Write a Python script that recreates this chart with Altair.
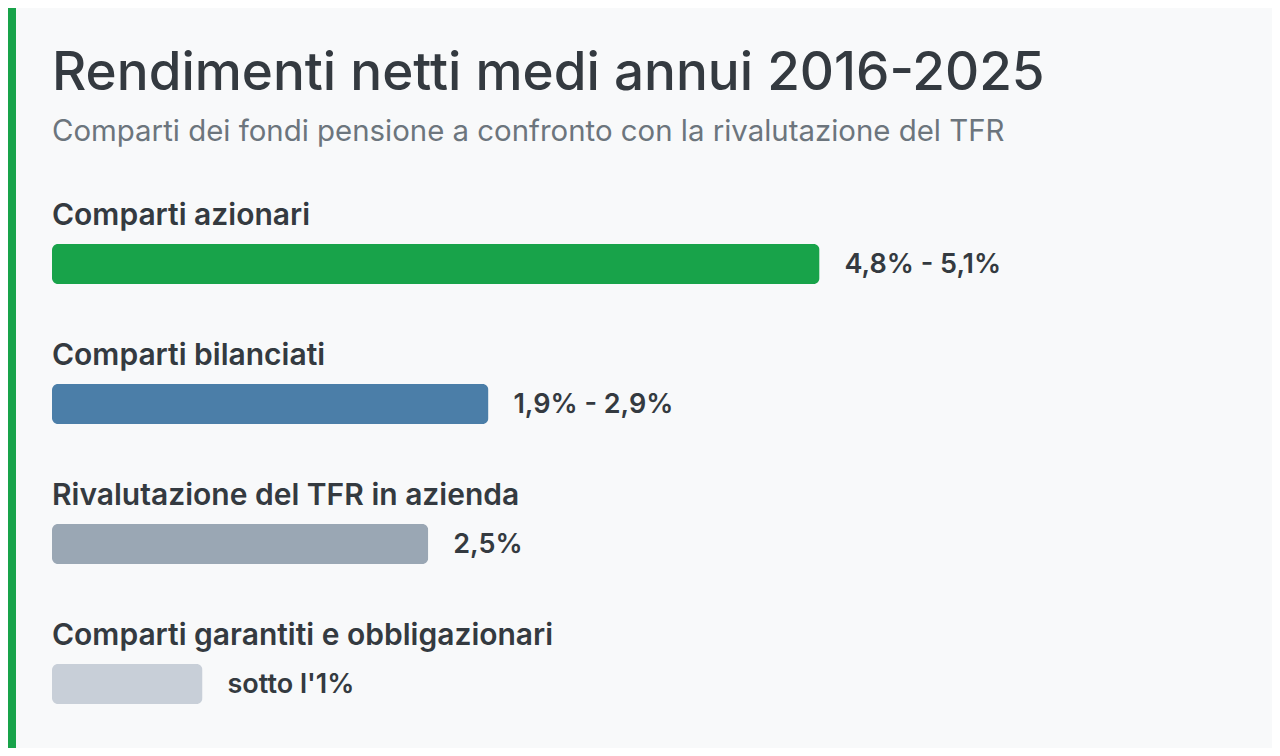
import altair as alt
import pandas as pd

# Comparti e rendimenti
categorie = [
    "Comparti azionari",
    "Comparti bilanciati",
    "Rivalutazione del TFR in azienda",
    "Comparti garantiti e obbligazionari",
]
# Estremo superiore dell'intervallo, usato per la lunghezza della barra
rendimento_max = [5.1, 2.9, 2.5, 1.0]
etichette = ["4,8% - 5,1%", "1,9% - 2,9%", "2,5%", "sotto l'1%"]
colori = ["#18a34a", "#4b7ea8", "#9aa7b4", "#c8cfd8"]

text_color = "#343a40"
font = "Inter"

df = pd.DataFrame({
    "categoria": categorie,
    "valore": rendimento_max,
    "etichetta": etichette,
    "colore": colori,
})

y_enc = alt.Y("categoria:N", sort=categorie, axis=None,
              scale=alt.Scale(type="point", padding=0))
x_scale = alt.Scale(domain=[0, 8], nice=False)

base = alt.Chart(df)

bars = base.mark_bar(size=40, cornerRadius=6).encode(
    x=alt.X("valore:Q", scale=x_scale, axis=None),
    y=y_enc,
    color=alt.Color("colore:N", scale=None),
)

valori = base.mark_text(
    align="left", baseline="middle", dx=25, dy=1, fontSize=27,
    fontWeight=600, font=font, color=text_color,
).encode(
    x=alt.X("valore:Q", scale=x_scale),
    y=y_enc,
    text="etichetta:N",
)

nomi = base.mark_text(
    align="left", baseline="alphabetic", dy=-39, fontSize=30,
    fontWeight=600, font=font, color=text_color,
).encode(
    x=alt.value(0),
    y=y_enc,
    text="categoria:N",
)

# Striscia verde sul bordo sinistro
striscia = alt.Chart(pd.DataFrame({"s": [0]})).mark_rect(color="#18a34a").encode(
    x=alt.value(-44), x2=alt.value(-36),
    y=alt.value(-256), y2=alt.value(484),
)

# the stripe reaches the top edge, so the title offset is measured from there
chart = alt.layer(striscia, bars, valori, nomi).properties(
    width=1204,
    height=420,
    autosize=alt.AutoSizeParams(type="none"),
    padding={"left": 44, "top": 256, "right": 16, "bottom": 64},
    background="#f8f9fa",
    title=alt.TitleParams(
        text="Rendimenti netti medi annui 2016-2025",
        subtitle="Comparti dei fondi pensione a confronto con la rivalutazione del TFR",
        anchor="start",
        frame="group",
        fontSize=53,
        fontWeight=500,
        font=font,
        color=text_color,
        subtitleFontSize=29.4,
        subtitleFont=font,
        subtitleColor="#6c757d",
        subtitlePadding=17,
        offset=-138,
    ),
).configure_view(stroke=None)

chart.save("out.html", embed_options={"renderer": "svg", "actions": False})
